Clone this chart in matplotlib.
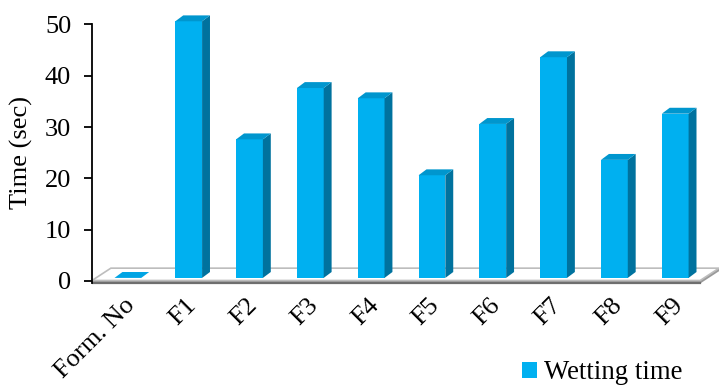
import numpy as np
import matplotlib
matplotlib.use("Agg")
import matplotlib.pyplot as plt
from matplotlib.patches import Polygon

plt.rcParams['font.family'] = ['Liberation Serif', 'DejaVu Serif']

categories = ['Form. No', 'F1', 'F2', 'F3', 'F4', 'F5', 'F6', 'F7', 'F8', 'F9']
wetting_time = [0, 50, 27, 37, 35, 20, 30, 43, 23, 32]
yticks = [0, 10, 20, 30, 40, 50]

c_front = '#00B0F0'
c_side = '#00729E'
c_top = '#0096CE'

# 3d-ish look: depth offset of bars and floor, in data units
bar_w = 0.44
bar_dx, bar_dy = 0.13, 1.15
base = 0.6
floor_dx, floor_dy = 0.31, 2.5

fig = plt.figure(figsize=(7.19, 3.87), dpi=100)
ax = fig.add_axes([92/719, 100/387, 627/719, 277/387])
ax.set_xlim(-0.59, 9.72)
ax.set_ylim(-1.17, 52.8)

x = np.arange(len(categories))
x0, x1 = -0.59, len(categories) - 0.59

# floor slab
ax.add_patch(Polygon([(x0, -0.5), (x1, -0.5), (x1 + floor_dx, floor_dy - 0.6),
                      (x1 + floor_dx, floor_dy), (x1, 0.1), (x0, 0.1)],
                     closed=True, fc='#9A9A9A', ec='none', zorder=1))
ax.add_patch(Polygon([(x0, 0.1), (x1, 0.1), (x1 + floor_dx, floor_dy),
                      (x0 + floor_dx, floor_dy)],
                     closed=True, fc='white', ec='#BDBDBD', lw=1.2, zorder=1))
ax.plot([x0, x1], [-0.45, -0.45], color='#6E6E6E', lw=1.6, zorder=1)

# bars: front face, right side, top
ax.bar(x, wetting_time, width=bar_w, bottom=base, color=c_front,
       label='Wetting time', zorder=3)
for xi, v in zip(x, wetting_time):
    r = xi + bar_w / 2
    l = xi - bar_w / 2
    t = base + v
    if v > 0:
        ax.add_patch(Polygon([(r, base), (r, t), (r + bar_dx, t + bar_dy),
                              (r + bar_dx, base + bar_dy)],
                             closed=True, fc=c_side, ec='none', zorder=3))
    ax.add_patch(Polygon([(l, t), (r, t), (r + bar_dx, t + bar_dy),
                          (l + bar_dx, t + bar_dy)],
                         closed=True, fc=c_top if v > 0 else '#00A4E4',
                         ec='none', zorder=3))

for s in ['top', 'right', 'bottom']:
    ax.spines[s].set_visible(False)
ax.spines['left'].set_bounds(-0.45, 50)
ax.spines['left'].set_linewidth(1.3)
ax.spines['left'].set_zorder(4)

ax.set_yticks(yticks)
ax.tick_params(axis='y', direction='out', length=6, width=1.3,
               labelsize=19, pad=9)
# category labels sit slightly left of the bar centres
ax.set_xticks(x - 0.06)
ax.set_xticklabels(categories)
ax.tick_params(axis='x', length=0, labelsize=19, pad=5)
for lab in ax.get_xticklabels():
    lab.set(rotation=45, ha='right', va='top', rotation_mode='anchor')

ax.set_ylabel('Time (sec)', fontsize=19)
ax.yaxis.set_label_coords(-0.094, 0.484)

fig.legend(loc='lower right', bbox_to_anchor=(0.982, -0.058), frameon=False,
           fontsize=19.3, handlelength=0.55, handleheight=0.55,
           handletextpad=0.25)

fig.savefig('out.png', dpi=100)
